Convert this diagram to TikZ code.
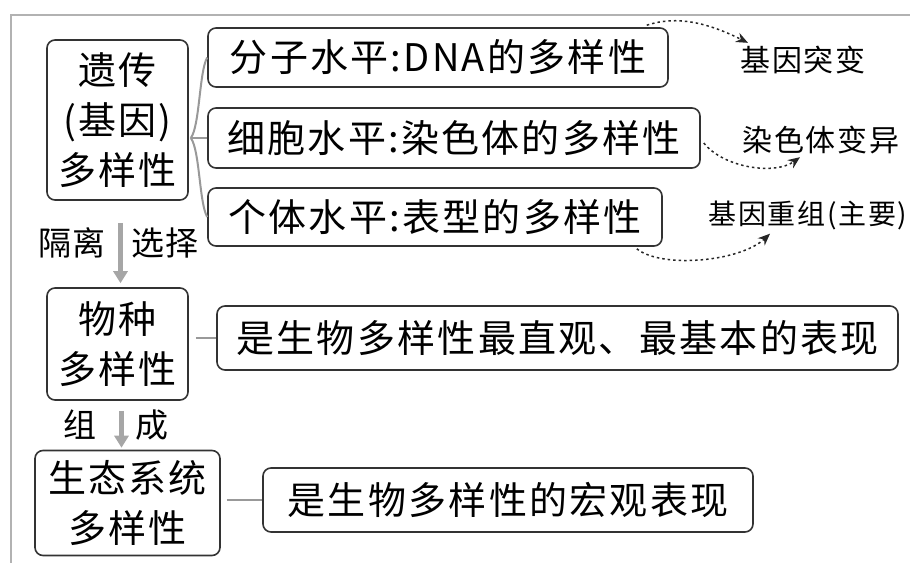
\documentclass[tikz,border=0pt]{standalone}
\usepackage{fontspec}
\newfontfamily\cjk[LetterSpace=6]{Noto Sans CJK SC}
\newfontfamily\cjkhand[LetterSpace=6]{Noto Sans CJK SC}
\usetikzlibrary{calc,arrows.meta}
\begin{document}
\begin{tikzpicture}[x=1pt,y=-1pt,
  box/.style={draw=black!80, line width=1.6pt, rounded corners=8pt, align=center, inner sep=0pt, font=\cjk\fontsize{38}{50}\selectfont},
  lab/.style={font=\cjkhand\fontsize{30}{32}\selectfont, inner sep=0pt},
  side/.style={font=\cjk\fontsize{33}{36}\selectfont, inner sep=0pt},
  link/.style={draw=black!40, line width=2pt},
  flow/.style={draw=black!35, line width=5pt, -{Triangle[length=12pt,width=14pt]}},
  dotarr/.style={draw=black!85, line width=1.5pt, dash pattern=on 2.5pt off 3pt, -{Stealth[length=12pt,width=10pt]}}]
\useasboundingbox (0,0) rectangle (910,563);
\draw[black!30, line width=1.5pt] (910,15) -- (11,15) -- (11,563);

\node[box, minimum width=141pt, minimum height=160pt] (A) at (117.5,120) {遗传\\(基因)\\多样性};
\node[box, minimum width=460pt, minimum height=59pt] (b1) at (438,57.5) {分子水平:DNA的多样性};
\node[box, minimum width=492pt, minimum height=60pt] (b2) at (454,138) {细胞水平:染色体的多样性};
\node[box, minimum width=454pt, minimum height=58pt] (b3) at (435,217) {个体水平:表型的多样性};

\node[box, minimum width=141pt, minimum height=112pt] (B) at (117.5,344) {物种\\多样性};
\node[box, minimum width=681pt, minimum height=64pt] (B2) at (557.5,338) {是生物多样性最直观、最基本的表现};

\node[box, minimum width=185pt, minimum height=105pt] (C) at (127.5,503) {生态系统\\多样性};
\node[box, minimum width=490pt, minimum height=64pt] (C2) at (508,500) {是生物多样性的宏观表现};

\node[side] (l1) at (72,243) {隔离};
\node[side] (l2) at (165,243) {选择};
\node[side] (l3) at (80,425) {组};
\node[side] (l4) at (152,425) {成};

\node[lab] (r1) at (803,60) {基因突变};
\node[lab] (r2) at (821,140) {染色体变异};
\node[lab, font=\cjkhand\fontsize{28}{30}\selectfont] (r3) at (808,215) {基因重组(主要)};

\draw[link] ($(A.east |- b2.west)+(2,0)$) -- (b2.west);
\draw[link] ($(A.east |- b2.west)+(2,0)$) .. controls +(9,-12) and +(-8,14) .. (b1.west);
\draw[link] ($(A.east |- b2.west)+(2,0)$) .. controls +(9,12) and +(-8,-14) .. (b3.west);
\draw[link] ($(B.east |- B2.west)+(7,0)$) -- (B2.west);
\draw[link] ($(C.east |- C2.west)+(6,0)$) -- (C2.west);

\draw[flow] ($(A.south)+(3,22)$) -- ($(B.north)+(3,-4)$);
\draw[flow] ($(B.south)+(4,10)$) -- ($(C.north)+(-6,-2)$);

\draw[dotarr] ($(b1.north east)+(-22,-2)$) .. controls +(30,-10) and +(-40,-20) .. ($(r1.north)+(-55,-3)$);
\draw[dotarr] ($(b2.east)+(3,5)$) .. controls +(20,25) and +(-25,18) .. ($(r2.south)+(-21,3)$);
\draw[dotarr] ($(b3.south east)+(-26,2)$) .. controls +(25,20) and +(-30,28) .. ($(r3.south)+(-38,4)$);
\end{tikzpicture}
\end{document}
